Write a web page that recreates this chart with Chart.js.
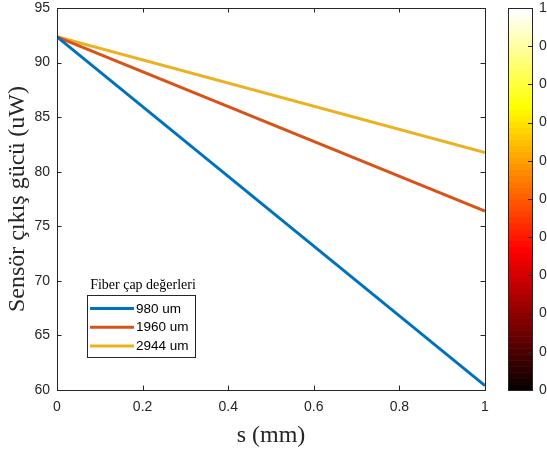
<!DOCTYPE html>
<html><head><meta charset="utf-8">
<script src="https://cdn.jsdelivr.net/npm/chart.js@4/dist/chart.umd.min.js"></script>
<style>html,body{margin:0;padding:0;background:#fff;} #wrap{width:547px;height:450px;}</style>
</head><body><div id="wrap"><canvas id="c" width="547" height="450"></canvas></div>
<script>
// ---- data ----
const xValues = [0, 1];
const series980 = [92.36, 60.4];
const series1960 = [92.36, 76.4];
const series2944 = [92.36, 81.76];
const seriesLabels = ['980 um', '1960 um', '2944 um'];
const legendTitle = 'Fiber çap değerleri';
const xTicks = [0, 0.2, 0.4, 0.6, 0.8, 1];
const yTicks = [60, 65, 70, 75, 80, 85, 90, 95];
const colorbarLabels = ['0','0','0','0','0','0','0','0','0','0','1']; // bottom to top
const xTitle = 's (mm)';
const yTitle = 'Sensör çıkış gücü (uW)';

const colors = ['#0072BD', '#D95319', '#EDB120'];
const axisColor = '#262626';
const sansFont = "'Liberation Sans', Arial, sans-serif";
const serifFont = "'Liberation Serif', 'Times New Roman', serif";

function pts(vals){ return xValues.map((x,i)=>({x:x, y:vals[i]})); }

function hotColor(i, m){
  const n = Math.floor(3*m/8);
  const k = i+1;
  const r = k <= n ? k/n : 1;
  const g = k <= n ? 0 : (k <= 2*n ? (k-n)/n : 1);
  const b = k <= 2*n ? 0 : (k-2*n)/(m-2*n);
  return 'rgb(' + Math.round(r*255) + ',' + Math.round(g*255) + ',' + Math.round(b*255) + ')';
}

const decor = {
  id: 'decor',
  afterDraw(chart){
    const ctx = chart.ctx;
    const a = chart.chartArea;
    const xs = chart.scales.x, ys = chart.scales.y;
    const tl = 4.5;
    ctx.save();
    // box
    ctx.strokeStyle = axisColor;
    ctx.lineWidth = 1;
    ctx.strokeRect(Math.round(a.left)+0.5, Math.round(a.top)+0.5, Math.round(a.right-a.left), Math.round(a.bottom-a.top));
    // inward ticks
    ctx.beginPath();
    xTicks.forEach(v=>{
      const px = Math.round(xs.getPixelForValue(v))+0.5;
      ctx.moveTo(px, a.bottom); ctx.lineTo(px, a.bottom - tl);
      ctx.moveTo(px, a.top); ctx.lineTo(px, a.top + tl);
    });
    yTicks.forEach(v=>{
      const py = Math.round(ys.getPixelForValue(v))+0.5;
      ctx.moveTo(a.left, py); ctx.lineTo(a.left + tl, py);
      ctx.moveTo(a.right, py); ctx.lineTo(a.right - tl, py);
    });
    ctx.stroke();

    // legend
    const lx = a.left + 30, ly = 295, lw = 108, lh = 62;
    ctx.fillStyle = '#fff';
    ctx.fillRect(lx, ly, lw, lh);
    ctx.strokeStyle = axisColor;
    ctx.strokeRect(lx+0.5, ly+0.5, lw, lh);
    ctx.fillStyle = '#000';
    ctx.font = '14px ' + serifFont;
    ctx.textAlign = 'center'; ctx.textBaseline = 'middle';
    ctx.fillText(legendTitle, lx + lw/2 + 2, ly - 10);
    ctx.font = '13.5px ' + sansFont;
    ctx.textAlign = 'left';
    chart.data.datasets.forEach((ds, i)=>{
      const ry = ly + 13.5 + i*18.7;
      ctx.strokeStyle = ds.borderColor;
      ctx.lineWidth = 3;
      ctx.beginPath(); ctx.moveTo(lx+3, ry); ctx.lineTo(lx+47, ry); ctx.stroke();
      ctx.fillStyle = '#000';
      ctx.fillText(ds.label, lx + 49, ry + 0.5);
    });

    // colorbar
    const cx = a.right + 23, cw = 24, ctop = a.top, cbot = a.bottom;
    const m = 64, bh = (cbot - ctop)/m;
    for (let i=0;i<m;i++){
      ctx.fillStyle = hotColor(i, m);
      ctx.fillRect(cx, cbot - (i+1)*bh, cw, bh + 0.6);
    }
    ctx.strokeStyle = axisColor; ctx.lineWidth = 1;
    ctx.strokeRect(Math.round(cx)+0.5, Math.round(ctop)+0.5, cw, Math.round(cbot-ctop));
    ctx.font = '14px ' + sansFont;
    ctx.fillStyle = axisColor;
    ctx.textAlign = 'left'; ctx.textBaseline = 'middle';
    const nL = colorbarLabels.length;
    colorbarLabels.forEach((t, i)=>{
      const py = cbot - i*(cbot-ctop)/(nL-1);
      const yy = Math.round(py)+0.5;
      ctx.beginPath(); ctx.moveTo(cx+cw, yy); ctx.lineTo(cx+cw-4, yy); ctx.stroke();
      ctx.fillText(t, cx + cw + 7, py);
    });
    ctx.restore();
  }
};

new Chart(document.getElementById('c'), {
  type: 'line',
  data: {
    datasets: [
      {label: seriesLabels[0], data: pts(series980), borderColor: colors[0], backgroundColor: colors[0]},
      {label: seriesLabels[1], data: pts(series1960), borderColor: colors[1], backgroundColor: colors[1]},
      {label: seriesLabels[2], data: pts(series2944), borderColor: colors[2], backgroundColor: colors[2]}
    ]
  },
  options: {
    responsive: false,
    devicePixelRatio: 1,
    animation: false,
    layout: {padding: {top: 8, right: 62, left: 0, bottom: 0}},
    elements: {line: {borderWidth: 3, tension: 0}, point: {radius: 0}},
    plugins: {legend: {display: false}, tooltip: {enabled: false}},
    scales: {
      x: {
        type: 'linear', min: 0, max: 1,
        afterBuildTicks: s => { s.ticks = xTicks.map(v=>({value:v})); },
        afterFit: s => { s.height = 60; s.paddingLeft = 0; s.paddingRight = 0; s.paddingTop = 0; s.paddingBottom = 0; },
        grid: {display: false, drawTicks: false},
        border: {display: false},
        ticks: {color: axisColor, font: {family: sansFont, size: 14}, padding: 9, maxRotation: 0, callback: v => String(v)},
        title: {display: true, text: xTitle, color: axisColor, font: {family: serifFont, size: 24}, padding: {top: 0, bottom: 0}}
      },
      y: {
        type: 'linear', min: 60, max: 95,
        afterBuildTicks: s => { s.ticks = yTicks.map(v=>({value:v})); },
        afterFit: s => { s.width = 57; s.paddingTop = 0; s.paddingBottom = 0; s.paddingLeft = 0; s.paddingRight = 0; },
        grid: {display: false, drawTicks: false},
        border: {display: false},
        ticks: {color: axisColor, font: {family: sansFont, size: 14, lineHeight: 1.1}, padding: 7, callback: v => String(v)},
        title: {display: true, text: yTitle, color: axisColor, font: {family: serifFont, size: 24}, padding: {top: 3, bottom: 0}}
      }
    }
  },
  plugins: [decor]
});
</script></body></html>
